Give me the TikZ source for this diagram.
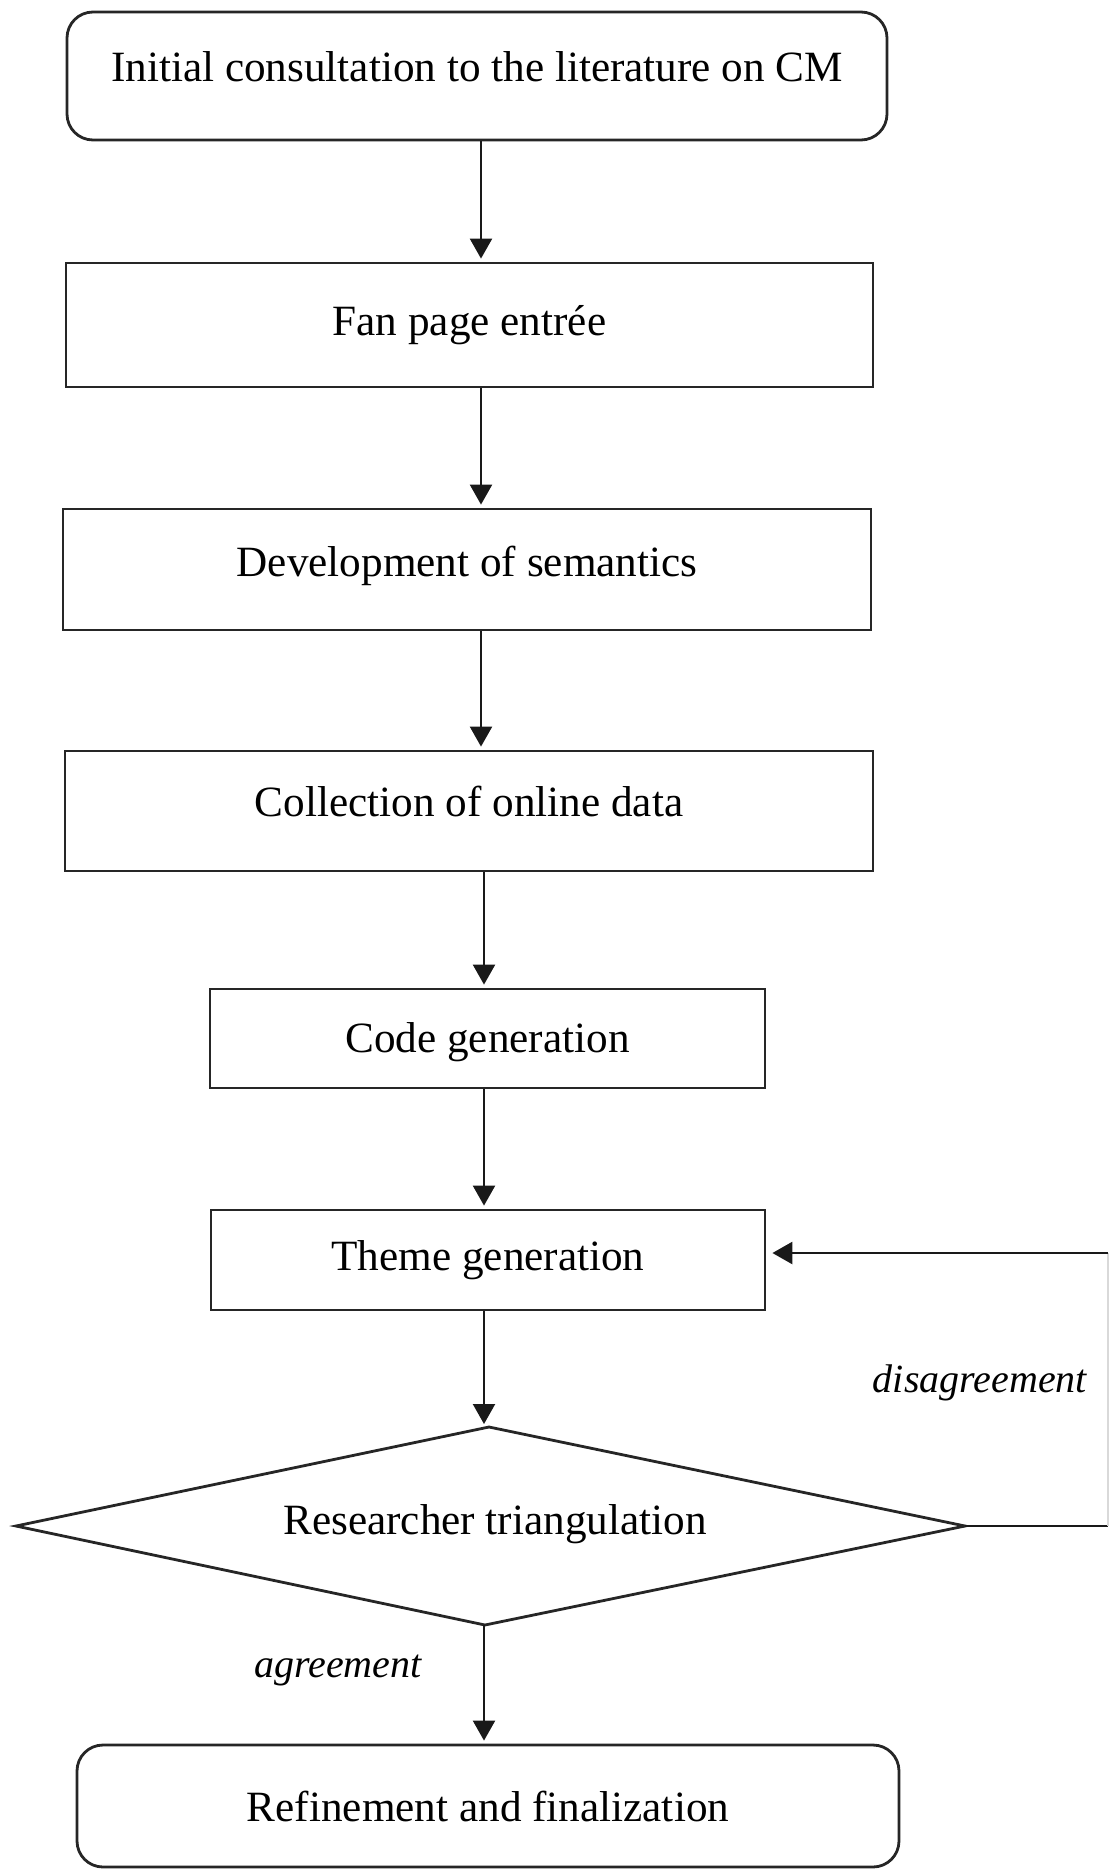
\documentclass[tikz,border=0pt]{standalone}
\usepackage{fontspec}
\setmainfont{Liberation Serif}
\usetikzlibrary{arrows.meta}
\newcommand\txtup[2]{\raisebox{#1}[\height][\depth]{#2}}
\begin{document}
\begin{tikzpicture}[x=0.5pt,y=-0.5pt,
  box/.style={draw=black!85, line width=1.4pt, inner sep=0pt, fill=white,
              font=\fontsize{21.6}{26}\selectfont},
  rbox/.style={box, rounded corners=13pt},
  lab/.style={inner sep=0pt, font=\fontsize{20}{24}\selectfont\itshape},
  link/.style={line width=1.1pt, draw=black!90},
  arr/.style={link, -{Triangle[width=11pt,length=10pt]}, shorten >=1.5pt}]
\useasboundingbox (0,0) rectangle (1114,1869);
% nodes
\node[rbox, minimum width=410pt, minimum height=64pt] (b1) at (477,76)
  {\txtup{4.5pt}{Initial consultation to the literature on CM}};
\node[box, minimum width=403.5pt, minimum height=62pt] (b2) at (469.5,325) {Fan page entrée};
\node[box, minimum width=404pt, minimum height=60.5pt] (b3) at (467,569.5) {\txtup{1.8pt}{Development of semantics}};
\node[box, minimum width=404pt, minimum height=60pt] (b4) at (469,811) {\txtup{4.8pt}{Collection of online data}};
\node[box, minimum width=277.5pt, minimum height=49.5pt] (b5) at (487.5,1038.5) {\txtup{-1.8pt}{Code generation}};
\node[box, minimum width=277pt, minimum height=50pt] (b6) at (488,1260) {Theme generation};
\node[rbox, minimum width=411pt, minimum height=61pt] (b7) at (488,1806) {Refinement and finalization};
% diamond
\coordinate (dt) at (489,1427);
\coordinate (db) at (485,1625);
\coordinate (dl) at (16,1526);
\coordinate (dr) at (965,1526);
\draw[line width=1.4pt, draw=black!85] (dt) -- (dr) -- (db) -- (dl) -- cycle;
\node[inner sep=0pt, font=\fontsize{21.6}{26}\selectfont] (dtx) at (495,1524) {Researcher triangulation};
% arrow columns
\coordinate (ax1) at (481,0);
\coordinate (ax2) at (484,0);
\coordinate (fr) at (1108,1526);
\coordinate (ft) at (1108,1253);
% connectors
\draw[arr] (b1.south -| ax1) -- (b2.north -| ax1);
\draw[arr] (b2.south -| ax1) -- (b3.north -| ax1);
\draw[arr] (b3.south -| ax1) -- (b4.north -| ax1);
\draw[arr] (b4.south -| ax2) -- (b5.north -| ax2);
\draw[arr] (b5.south -| ax2) -- (b6.north -| ax2);
\draw[arr] (b6.south -| ax2) -- (ax2 |- dt);
\draw[arr] (ax2 |- db) -- (b7.north -| ax2);
\draw[link, line width=1.3pt] (dr) -- (fr);
\draw[line width=0.7pt, draw=black!15] (fr) -- (ft);
\draw[arr, line width=1.3pt, shorten >=3pt] (ft) -- (b6.east |- ft);
% labels
\node[lab] (dis) at (980,1383) {disagreement};
\node[lab] (agr) at (338,1670) {agreement};
\end{tikzpicture}
\end{document}
